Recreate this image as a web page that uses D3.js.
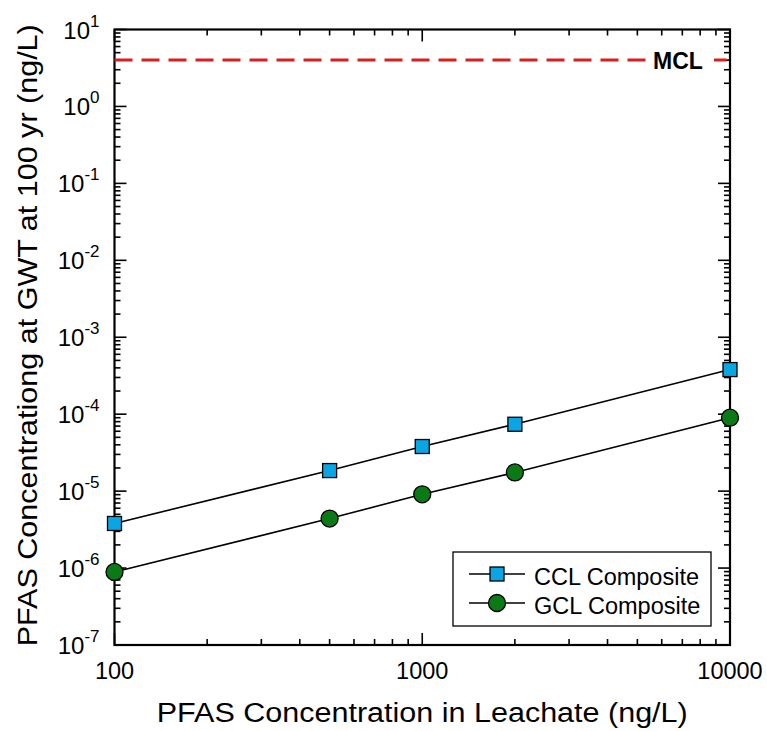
<!DOCTYPE html>
<html>
<head>
<meta charset="utf-8">
<script src="https://cdn.jsdelivr.net/npm/d3@7"></script>
<style>
  body { margin: 0; background: #fff; }
  svg { font-family: "Liberation Sans", Arial, sans-serif; }
</style>
</head>
<body>
<svg id="chart"></svg>
<script>
// leachate concentrations (ng/L)
const leachate = [100, 500, 1000, 2000, 10000];
// concentration at GWT at 100 yr (ng/L)
const cclComposite = [3.8e-6, 1.85e-5, 3.8e-5, 7.4e-5, 3.8e-4];
const gclComposite = [8.9e-7, 4.4e-6, 9.1e-6, 1.75e-5, 9.0e-5];
const mcl = 4;
const xTicks = [100, 1000, 10000];
const yExponents = [-7, -6, -5, -4, -3, -2, -1, 0, 1];

const width = 767, height = 731;
const margin = ({top: 29.5, right: 37, bottom: 86, left: 114.5});

const svg = d3.select("#chart")
    .attr("width", width)
    .attr("height", height)
    .attr("viewBox", [0, 0, width, height]);

const x = d3.scaleLog()
    .domain([100, 10000])
    .range([margin.left, width - margin.right]);

const y = d3.scaleLog()
    .domain([1e-7, 10])
    .range([height - margin.bottom, margin.top]);

// minor tick values
const xMinor = [];
for (let d = 100; d < 10000; d *= 10)
    for (let k = 2; k <= 9; k++) xMinor.push(d * k);
const yMinor = [];
for (let e = -7; e < 1; e++)
    for (let k = 2; k <= 9; k++) yMinor.push(k * Math.pow(10, e));

const major = 12, minor = 6;
const frame = svg.append("g").attr("stroke", "black").attr("stroke-width", 1.6);

const x0 = x.range()[0], x1 = x.range()[1], y0 = y.range()[0], y1 = y.range()[1];

// ticks on all four sides, pointing inward
frame.selectAll(".xt")
    .data(xTicks.map(v => [v, major]).concat(xMinor.map(v => [v, minor])))
    .join(enter => {
        const g = enter.append("g");
        g.append("line").attr("x1", d => x(d[0])).attr("x2", d => x(d[0]))
            .attr("y1", y0).attr("y2", d => y0 - d[1]);
        g.append("line").attr("x1", d => x(d[0])).attr("x2", d => x(d[0]))
            .attr("y1", y1).attr("y2", d => y1 + d[1]);
        return g;
    });

frame.selectAll(".yt")
    .data(yExponents.map(e => [Math.pow(10, e), major]).concat(yMinor.map(v => [v, minor])))
    .join(enter => {
        const g = enter.append("g");
        g.append("line").attr("y1", d => y(d[0])).attr("y2", d => y(d[0]))
            .attr("x1", x0).attr("x2", d => x0 + d[1]);
        g.append("line").attr("y1", d => y(d[0])).attr("y2", d => y(d[0]))
            .attr("x1", x1).attr("x2", d => x1 - d[1]);
        return g;
    });

frame.append("rect")
    .attr("x", x0).attr("y", y1)
    .attr("width", x1 - x0).attr("height", y0 - y1)
    .attr("fill", "none").attr("stroke-width", 2.2);

// x tick labels
svg.append("g")
    .style("font-size", "23.5px")
    .attr("text-anchor", "middle")
    .selectAll("text")
    .data(xTicks)
    .join("text")
    .attr("x", d => x(d))
    .attr("y", y0 + 34)
    .text(d => d);

// y tick labels as 10^n
const yl = svg.append("g")
    .style("font-size", "24px")
    .attr("text-anchor", "end")
    .selectAll("text")
    .data(yExponents)
    .join("text")
    .attr("x", x0 - 15)
    .attr("y", d => y(Math.pow(10, d)) + 9);
yl.append("tspan").text("10");
yl.append("tspan")
    .attr("dy", -12)
    .style("font-size", "17px")
    .text(d => d < 0 ? "-" + (-d) : d);

// axis titles
svg.append("text")
    .attr("x", (x0 + x1) / 2)
    .attr("y", 722)
    .attr("text-anchor", "middle")
    .attr("textLength", 531)
    .attr("lengthAdjust", "spacingAndGlyphs")
    .style("font-size", "27px")
    .text("PFAS Concentration in Leachate (ng/L)");

svg.append("text")
    .attr("transform", `translate(37,${(y0 + y1) / 2 - 2}) rotate(-90)`)
    .attr("text-anchor", "middle")
    .attr("textLength", 622)
    .attr("lengthAdjust", "spacingAndGlyphs")
    .style("font-size", "28px")
    .text("PFAS Concentrationg at GWT at 100 yr (ng/L)");

// MCL line
svg.append("line")
    .attr("x1", x0).attr("x2", x1)
    .attr("y1", y(mcl)).attr("y2", y(mcl))
    .attr("stroke", "#d81e1e")
    .attr("stroke-width", 3)
    .attr("stroke-dasharray", "18,9");
svg.append("rect")
    .attr("x", 650).attr("y", y(mcl) - 13)
    .attr("width", 64).attr("height", 26)
    .attr("fill", "white");
svg.append("text")
    .attr("x", 653).attr("y", y(mcl) + 9)
    .style("font-size", "23px")
    .style("font-weight", "bold")
    .text("MCL");

const line = d3.line().x(d => x(d[0])).y(d => y(d[1]));
const ccl = leachate.map((v, i) => [v, cclComposite[i]]);
const gcl = leachate.map((v, i) => [v, gclComposite[i]]);

const sqFill = "#0aa6e4", ciFill = "#0a7a16";

svg.append("path").datum(ccl).attr("d", line)
    .attr("fill", "none").attr("stroke", "black").attr("stroke-width", 1.6);
svg.append("path").datum(gcl).attr("d", line)
    .attr("fill", "none").attr("stroke", "black").attr("stroke-width", 1.6);

svg.append("g").selectAll("rect")
    .data(ccl)
    .join("rect")
    .attr("x", d => x(d[0]) - 7)
    .attr("y", d => y(d[1]) - 7)
    .attr("width", 14).attr("height", 14)
    .attr("fill", sqFill).attr("stroke", "black").attr("stroke-width", 1.3);

svg.append("g").selectAll("circle")
    .data(gcl)
    .join("circle")
    .attr("cx", d => x(d[0]))
    .attr("cy", d => y(d[1]))
    .attr("r", 8.5)
    .attr("fill", ciFill).attr("stroke", "black").attr("stroke-width", 1.3);

// legend
const lg = svg.append("g").attr("transform", "translate(453,552)");
lg.append("rect").attr("width", 258).attr("height", 74)
    .attr("fill", "white").attr("stroke", "black").attr("stroke-width", 1.3);
const entries = [
    {label: "CCL Composite", shape: "square"},
    {label: "GCL Composite", shape: "circle"}
];
entries.forEach((e, i) => {
    const ey = 22 + i * 29;
    lg.append("line").attr("x1", 16).attr("x2", 72).attr("y1", ey).attr("y2", ey)
        .attr("stroke", "black").attr("stroke-width", 1.6);
    if (e.shape === "square") {
        lg.append("rect").attr("x", 37).attr("y", ey - 7).attr("width", 14).attr("height", 14)
            .attr("fill", sqFill).attr("stroke", "black").attr("stroke-width", 1.3);
    } else {
        lg.append("circle").attr("cx", 44).attr("cy", ey).attr("r", 8.5)
            .attr("fill", ciFill).attr("stroke", "black").attr("stroke-width", 1.3);
    }
    lg.append("text").attr("x", 81).attr("y", ey + 11)
        .style("font-size", "23.5px").text(e.label);
});
</script>
</body>
</html>
